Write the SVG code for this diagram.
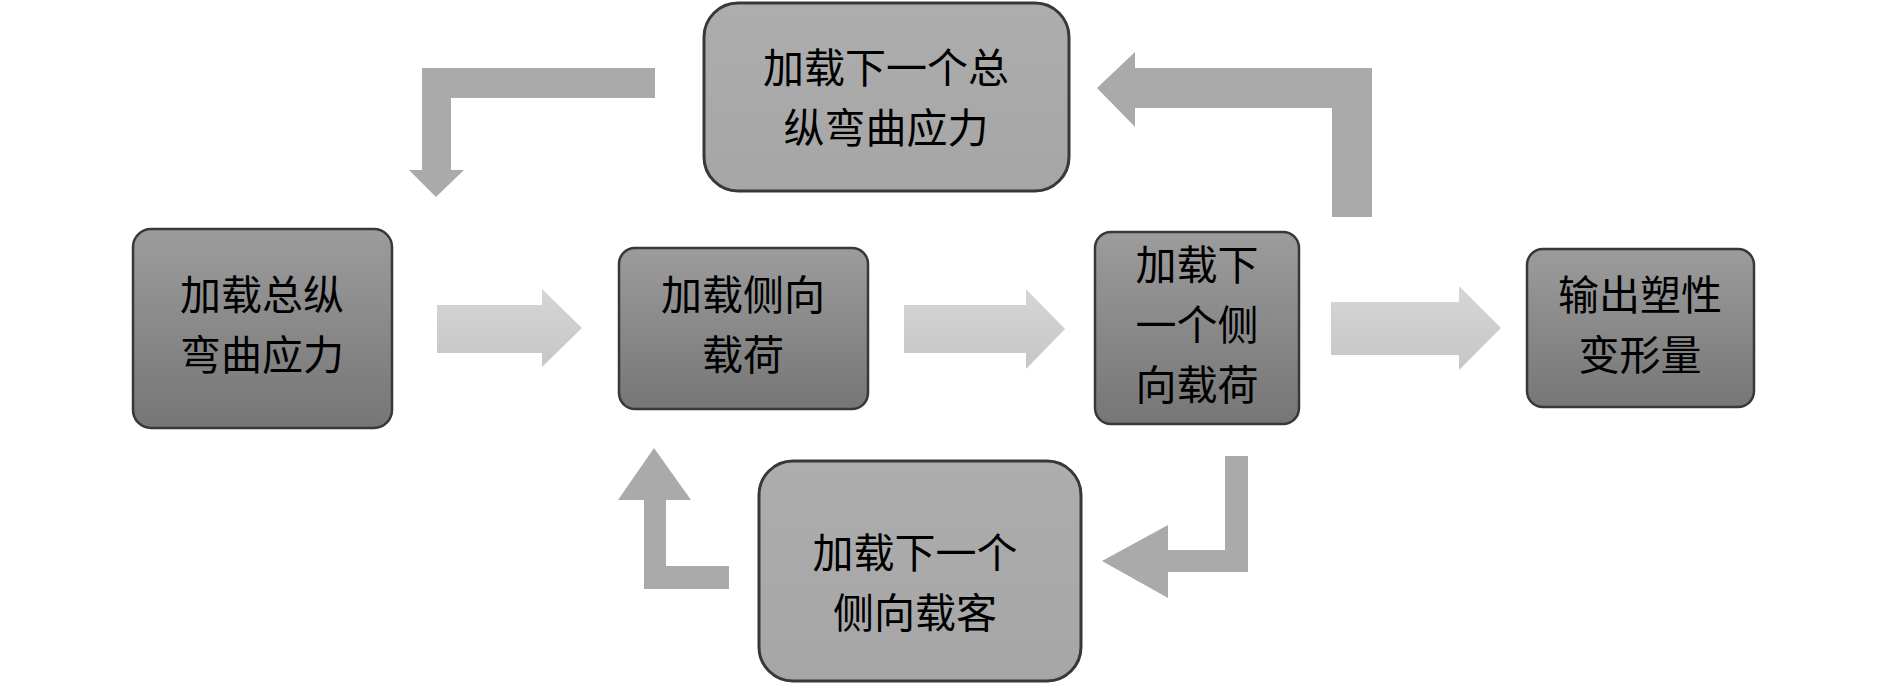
<svg xmlns="http://www.w3.org/2000/svg" width="1890" height="685" viewBox="0 0 1890 685">
<defs>
<linearGradient id="gDark" x1="0" y1="0" x2="0" y2="1">
<stop offset="0" stop-color="#9c9c9c"/>
<stop offset="1" stop-color="#767676"/>
</linearGradient>
<linearGradient id="gLight" x1="0" y1="0" x2="0" y2="1">
<stop offset="0" stop-color="#adadad"/>
<stop offset="1" stop-color="#a6a6a6"/>
</linearGradient>
<linearGradient id="gArrow" x1="0" y1="0" x2="0" y2="1">
<stop offset="0" stop-color="#d6d6d6"/>
<stop offset="1" stop-color="#c6c6c6"/>
</linearGradient>
</defs>
<style>
.dark{fill:url(#gDark);stroke:#383838;stroke-width:2.5}
.light{fill:url(#gLight);stroke:#383838;stroke-width:3}
.t{font-family:"Noto Sans CJK SC","Liberation Serif",serif;font-size:41px;fill:#000;text-anchor:middle}
.ha{fill:url(#gArrow)}
.ba{fill:#aaaaaa}
</style>
<rect width="1890" height="685" fill="#ffffff"/>
<g id="connectors">
<polygon class="ha" points="437,305 542,305 542,289 582,328 542,367 542,353 437,353"/>
<polygon class="ha" points="904,305 1026,305 1026,289 1065,329 1026,369 1026,353 904,353"/>
<polygon class="ha" points="1331,302 1459,302 1459,286 1501,328 1459,370 1459,355 1331,355"/>
<polygon class="ba" points="655,68 422,68 422,170 409,170 436,197 464,170 451,170 451,98 655,98"/>
<polygon class="ba" points="1372,217 1372,68 1135,68 1135,52 1097,88 1135,127 1135,108 1332,108 1332,217"/>
<polygon class="ba" points="1225,456 1248,456 1248,572 1168,572 1168,598 1102,561 1168,525 1168,550 1225,550"/>
<polygon class="ba" points="729,589 644,589 644,500 618,500 654,448 691,500 666,500 666,566 729,566"/>
</g>
<g id="n1">
<rect class="dark" x="133" y="229" width="259" height="199" rx="18"/>
<text class="t" x="262" y="310">加载总纵</text>
<text class="t" x="262" y="370">弯曲应力</text>
</g>
<g id="n2">
<rect class="dark" x="619" y="248" width="249" height="161" rx="16"/>
<text class="t" x="743" y="310">加载侧向</text>
<text class="t" x="743" y="370">载荷</text>
</g>
<g id="n3">
<rect class="dark" x="1095" y="232" width="204" height="192" rx="16"/>
<text class="t" x="1197" y="280">加载下</text>
<text class="t" x="1197" y="340">一个侧</text>
<text class="t" x="1197" y="400">向载荷</text>
</g>
<g id="n4">
<rect class="dark" x="1527" y="249" width="227" height="158" rx="16"/>
<text class="t" x="1640" y="310">输出塑性</text>
<text class="t" x="1640" y="370">变形量</text>
</g>
<g id="nTop">
<rect class="light" x="704" y="3" width="365" height="188" rx="34"/>
<text class="t" x="886" y="83">加载下一个总</text>
<text class="t" x="886" y="143">纵弯曲应力</text>
</g>
<g id="nBottom">
<rect class="light" x="759" y="461" width="322" height="220" rx="34"/>
<text class="t" x="915" y="568">加载下一个</text>
<text class="t" x="915" y="628">侧向载客</text>
</g>
</svg>
